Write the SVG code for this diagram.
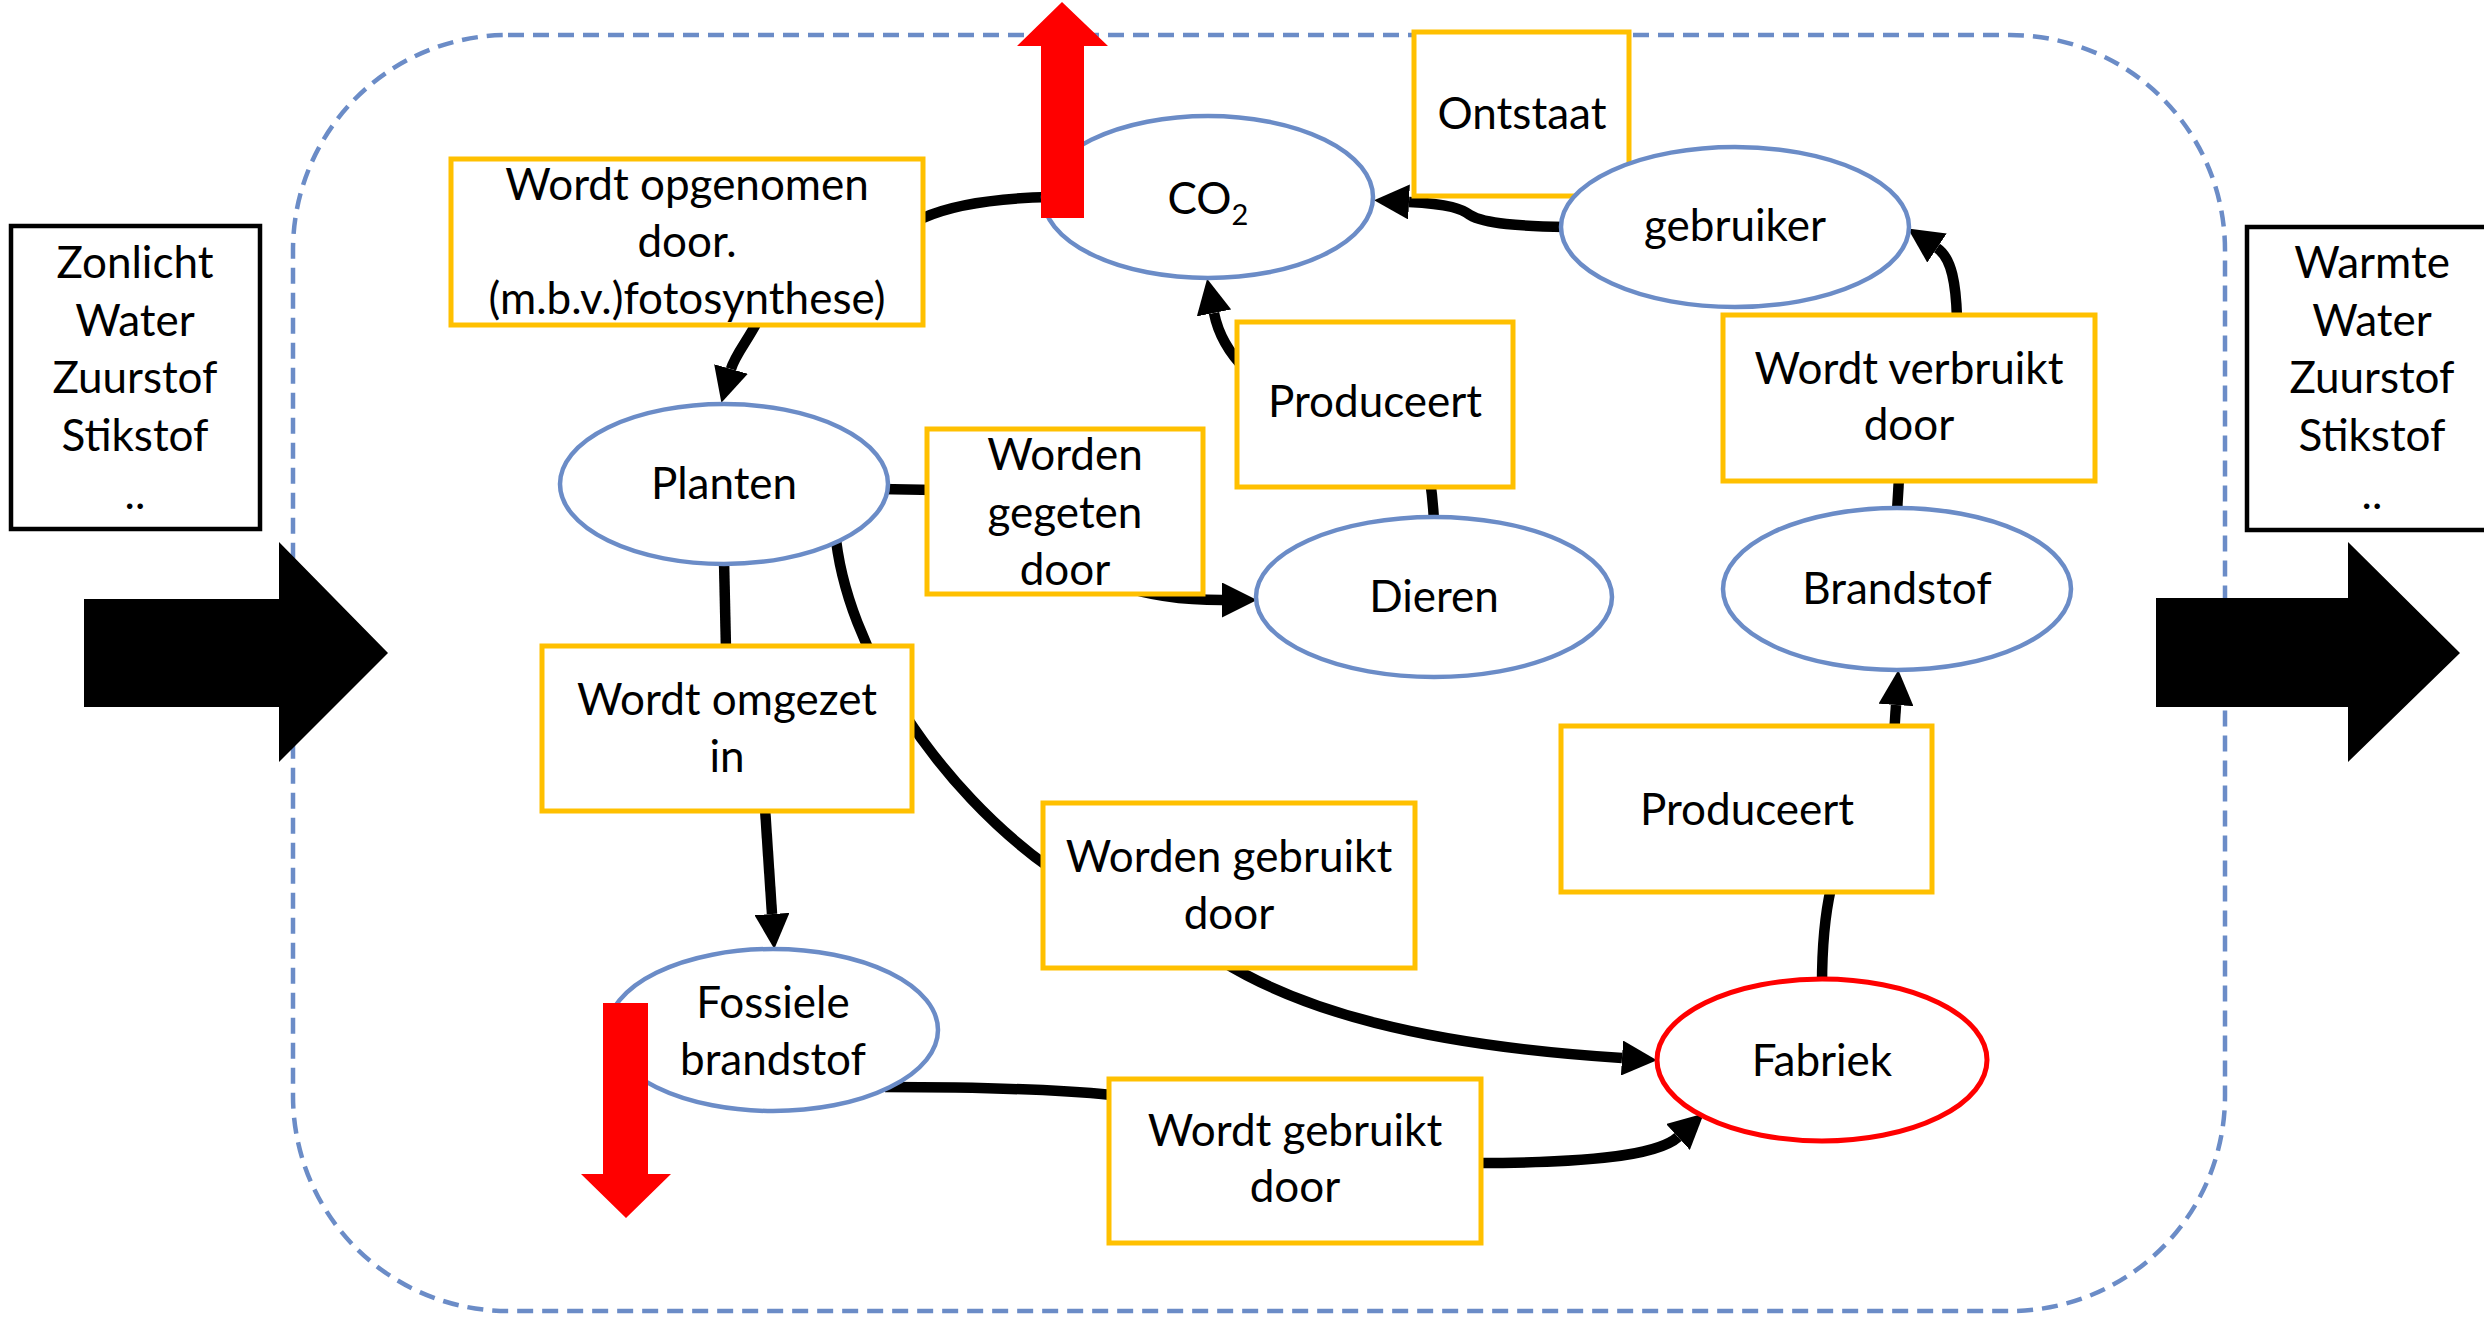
<svg xmlns="http://www.w3.org/2000/svg" width="2484" height="1319" viewBox="0 0 2484 1319">
  <style>
    .bound { fill: none; stroke: #6B8CC7; stroke-width: 4.5; stroke-dasharray: 16 9; }
    .term { fill: #ffffff; stroke: #FFC000; stroke-width: 5; }
    .node { fill: #ffffff; stroke: #6B8CC7; stroke-width: 4.5; }
    .hot { fill: #ffffff; stroke: #FF0000; stroke-width: 5; }
    .side { fill: #ffffff; stroke: #000000; stroke-width: 4.5; }
    .conn { fill: none; stroke: #000000; stroke-width: 10.5; }
    .arr { marker-end: url(#head); }
    .flow { fill: #FF0000; }
    .big { fill: #000000; }
    text { font-family: Lato, "Liberation Sans", sans-serif; font-size: 44px; fill: #000000; text-anchor: middle; }
  </style>
  <defs>
    <marker id="head" markerUnits="userSpaceOnUse" viewBox="0 0 34 34" markerWidth="35" markerHeight="35" refX="0" refY="17" orient="auto">
      <path d="M0,0 L34,17 L0,34 z" fill="#000000"/>
    </marker>
  </defs>

  <!-- system boundary -->
  <rect class="bound" x="293" y="35" width="1932" height="1276" rx="215" ry="215"/>

  <!-- connectors -->
  <g id="connectors">
    <path class="conn" d="M923,218 Q965,199 1050,197"/>
    <path class="conn arr" d="M757,322 C748,340 735,355 731,369"/>
    <path class="conn" d="M880,489 L935,490"/>
    <path class="conn arr" d="M1120,585 C1150,596 1185,600 1222,600"/>
    <path class="conn" d="M1434,522 Q1433,500 1430,480"/>
    <path class="conn arr" d="M1246,370 C1228,352 1218,333 1214,313"/>
    <path class="conn arr" d="M1566,227 C1520,226 1485,224 1470,215 C1462,209 1450,204 1409,202"/>
    <path class="conn" d="M724,560 L726,650"/>
    <path class="conn arr" d="M765,808 L772,914"/>
    <path class="conn" d="M835,530 C845,650 940,790 1050,868"/>
    <path class="conn arr" d="M1220,960 C1300,1010 1420,1045 1622,1058"/>
    <path class="conn" d="M885,1087 C960,1087 1040,1088 1112,1095"/>
    <path class="conn arr" d="M1478,1163 C1570,1163 1655,1158 1678,1137"/>
    <path class="conn" d="M1822,985 C1822,940 1826,910 1831,888"/>
    <path class="conn arr" d="M1894,735 L1896,705"/>
    <path class="conn" d="M1897,512 L1899,478"/>
    <path class="conn arr" d="M1957,318 C1956,285 1952,258 1937,248"/>
  </g>

  <!-- nodes -->
  <g id="opgenomen">
    <rect class="term" x="451" y="159" width="472" height="166"/>
    <text x="687" y="200">Wordt opgenomen</text>
    <text x="687" y="257">door.</text>
    <text x="687" y="314">(m.b.v.)fotosynthese)</text>
  </g>
  <g id="co2">
    <ellipse class="node" cx="1208" cy="197" rx="165" ry="81"/>
    <text x="1208" y="214">CO<tspan font-size="29" dy="11">2</tspan></text>
  </g>
  <g id="ontstaat">
    <rect class="term" x="1414" y="32" width="215" height="164"/>
    <text x="1522" y="129">Ontstaat</text>
  </g>
  <g id="gebruiker">
    <ellipse class="node" cx="1735" cy="227" rx="174" ry="80"/>
    <text x="1735" y="241">gebruiker</text>
  </g>
  <g id="verbruikt">
    <rect class="term" x="1723" y="315" width="372" height="166"/>
    <text x="1909" y="384">Wordt verbruikt</text>
    <text x="1909" y="440">door</text>
  </g>
  <g id="brandstof">
    <ellipse class="node" cx="1897" cy="589" rx="174" ry="81"/>
    <text x="1897" y="604">Brandstof</text>
  </g>
  <g id="produceert-fabriek">
    <rect class="term" x="1561" y="726" width="371" height="166"/>
    <text x="1747" y="825">Produceert</text>
  </g>
  <g id="fabriek">
    <ellipse class="hot" cx="1822" cy="1060" rx="165" ry="81"/>
    <text x="1822" y="1076">Fabriek</text>
  </g>
  <g id="dieren">
    <ellipse class="node" cx="1434" cy="597" rx="178" ry="80"/>
    <text x="1434" y="612">Dieren</text>
  </g>
  <g id="produceert-dieren">
    <rect class="term" x="1237" y="322" width="276" height="165"/>
    <text x="1375" y="417">Produceert</text>
  </g>
  <g id="planten">
    <ellipse class="node" cx="724" cy="484" rx="164" ry="80"/>
    <text x="724" y="499">Planten</text>
  </g>
  <g id="gegeten">
    <rect class="term" x="927" y="429" width="276" height="165"/>
    <text x="1065" y="470">Worden</text>
    <text x="1065" y="528">gegeten</text>
    <text x="1065" y="585">door</text>
  </g>
  <g id="omgezet">
    <rect class="term" x="542" y="646" width="370" height="165"/>
    <text x="727" y="715">Wordt omgezet</text>
    <text x="727" y="772">in</text>
  </g>
  <g id="gebruikt-fabriek">
    <rect class="term" x="1043" y="803" width="372" height="165"/>
    <text x="1229" y="872">Worden gebruikt</text>
    <text x="1229" y="929">door</text>
  </g>
  <g id="fossiel">
    <ellipse class="node" cx="773" cy="1030" rx="165" ry="81"/>
    <text x="773" y="1018">Fossiele</text>
    <text x="773" y="1075">brandstof</text>
  </g>
  <g id="gebruikt-fossiel">
    <rect class="term" x="1109" y="1079" width="372" height="164"/>
    <text x="1295" y="1146">Wordt gebruikt</text>
    <text x="1295" y="1202">door</text>
  </g>

  <!-- red flow arrows: CO2 out, fossil fuel stock down -->
  <g id="uitstoot">
    <polygon class="flow" points="1041,218 1041,46 1017,46 1062,2 1108,46 1084,46 1084,218"/>
  </g>
  <g id="voorraad">
    <polygon class="flow" points="603,1003 648,1003 648,1174 671,1174 626,1218 581,1174 603,1174"/>
  </g>

  <!-- inputs and outputs -->
  <g id="in-pijl">
    <polygon class="big" points="84,599 279,599 279,542 388,653 279,762 279,707 84,707"/>
  </g>
  <g id="uit-pijl">
    <polygon class="big" points="2156,598 2348,598 2348,542 2460,653 2348,762 2348,707 2156,707"/>
  </g>
  <g id="invoer">
    <rect class="side" x="11" y="226" width="249" height="303"/>
    <text x="135" y="278">Zonlicht</text>
    <text x="135" y="336">Water</text>
    <text x="135" y="393">Zuurstof</text>
    <text x="135" y="451">Stikstof</text>
    <text x="135" y="509">..</text>
  </g>
  <g id="uitvoer">
    <rect class="side" x="2247" y="227" width="262" height="303"/>
    <text x="2372" y="278">Warmte</text>
    <text x="2372" y="336">Water</text>
    <text x="2372" y="393">Zuurstof</text>
    <text x="2372" y="451">Stikstof</text>
    <text x="2372" y="509">..</text>
  </g>
</svg>
